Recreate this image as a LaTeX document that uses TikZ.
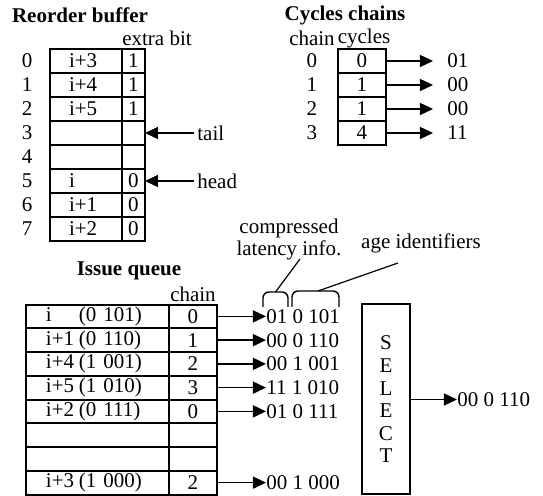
\documentclass[tikz,border=0pt]{standalone}
\usepackage{fontspec}
\setmainfont{Liberation Serif}
\usetikzlibrary{arrows.meta}

\newcommand\iqtag[2]{\makebox[16.5pt][l]{#1}#2}

\begin{document}
\begin{tikzpicture}[x=0.5pt,y=-0.5pt,>={Triangle[length=6.5pt,width=6pt]},
  every node/.style={font=\fontsize{10.5}{12}\selectfont,inner sep=0pt},
  title/.style={font=\fontsize{10.5}{12}\selectfont\bfseries},
  cell/.style={draw,line width=1pt,outer sep=0pt},
  rbentry/.style={cell,minimum height=12pt,text width=17pt,inner xsep=9.5pt,align=left},
  iqentry/.style={cell,minimum height=11.875pt,text width=51.5pt,inner xsep=10pt,align=left},
  arrline/.style={line width=0.7pt},
  bracket/.style={line width=0.7pt,rounded corners=3pt}]
  \useasboundingbox (0,0) rectangle (543,496);

  % reorder buffer
  \node[title] (rbtitle) at (80,15) {Reorder buffer};
  \node (rbhead) at (157,38) {extra bit};
  \foreach \n/\e/\b in {0/i+3/1,1/i+4/1,2/i+5/1,3//,4//,5/i/0,6/i+1/0,7/i+2/0}{
    \node (rb-i\n) at (27,61+24*\n) {\n};
    \node[rbentry] (rb-e\n) at (86,61+24*\n) {\e};
    \node[cell,minimum width=11.5pt,minimum height=12pt] (rb-b\n) at (133.5,61+24*\n) {\b};
  }
  \node[anchor=west,inner xsep=1.5pt] (tail) at (194,133) {tail};
  \node[anchor=west,inner xsep=1.5pt] (head) at (194,181) {head};
  \draw[->,arrline] (tail.west) -- (rb-b3.east);
  \draw[->,arrline] (head.west) -- (rb-b5.east);

  % cycles chains
  \node[title] (cctitle) at (345,15) {Cycles chains};
  \node (cchain) at (312,38) {chain};
  \node (ccycles) at (364,38) {cycles};
  \foreach \n/\v/\l in {0/0/01,1/1/00,2/1/00,3/4/11}{
    \node (cc-i\n) at (312,61+24*\n) {\n};
    \node[cell,minimum width=24pt,minimum height=12pt] (cc-v\n) at (362,61+24*\n) {\v};
    \node[anchor=west] (cc-l\n) at (447,61+24*\n) {\l};
    \draw[->,arrline,shorten >=7pt] (cc-v\n.east) -- (cc-l\n.west);
  }

  % issue queue
  \node[title] (iqtitle) at (129,271) {Issue queue};
  \node (iqchain) at (193,294) {chain};
  \foreach \n/\e/\t/\c in {0/i/(0 101)/0,1/i+1/(0 110)/1,2/i+4/(1 001)/2,3/i+5/(1 010)/3,
      4/i+2/(0 111)/0,5///,6///,7/i+3/(1 000)/2}{
    \node[iqentry] (iq-e\n) at (97.5,316.4+23.75*\n) {\iqtag{\e}{\t}};
    \node[cell,minimum width=24pt,minimum height=11.875pt] (iq-c\n) at (193,316.4+23.75*\n) {\c};
  }
  \foreach \n/\o in {0/01 0 101,1/00 0 110,2/00 1 001,3/11 1 010,4/01 0 111,7/00 1 000}{
    \node[anchor=west] (iq-o\n) at (266,316.4+23.75*\n) {\o};
    \draw[->,arrline] (iq-c\n.east) -- (iq-o\n.west);
  }

  % field brackets
  \node[align=center,font=\fontsize{10.5}{11}\selectfont] (latinfo) at (289,239) {compressed\\latency info.};
  \node (ageid) at (421,243) {age identifiers};
  \coordinate (lattip) at (275.5,292);
  \coordinate (agetip) at (318,291);
  \coordinate (latend) at (300,259);
  \coordinate (ageend) at (398,263);
  \draw[bracket] (263,307) |- (lattip) -| (288,307);
  \draw[bracket] (292,307) |- (agetip) -| (339,307);
  \draw[line width=0.6pt] (lattip) -- (latend);
  \draw[line width=0.6pt] (agetip) -- (ageend);

  % select logic
  \node[cell,minimum width=24pt,minimum height=95pt,align=center,
    font=\fontsize{10.5}{11.3}\selectfont] (select) at (386,399.5) {S\\E\\L\\E\\C\\T};
  \node[anchor=west] (selout) at (457,399.5) {00 0 110};
  \draw[->,arrline] (select.east) -- (selout.west);
\end{tikzpicture}
\end{document}
